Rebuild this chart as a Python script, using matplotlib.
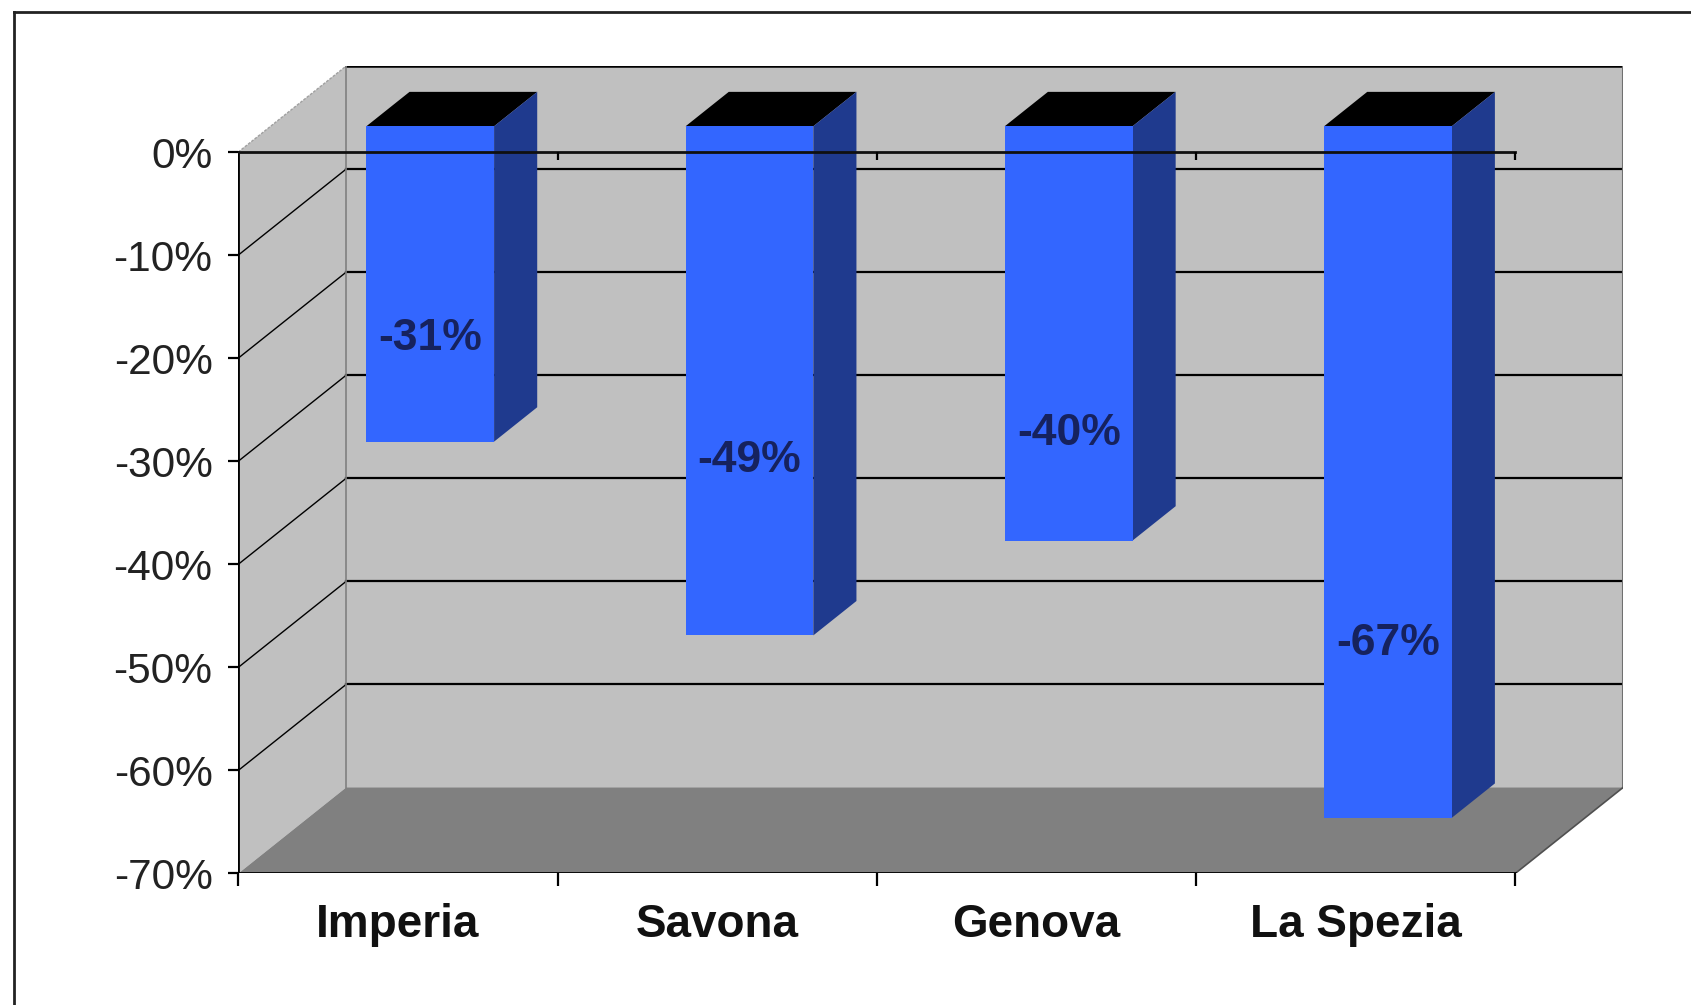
import matplotlib
matplotlib.use("Agg")
import matplotlib.pyplot as plt
from matplotlib.lines import Line2D
import numpy as np

# ---- data ----
categories = ["Imperia", "Savona", "Genova", "La Spezia"]
values = [-30.6, -49.4, -40.2, -67.1]
value_labels = ["-31%", "-49%", "-40%", "-67%"]
y_ticks = [0, -10, -20, -30, -40, -50, -60, -70]
y_tick_labels = ["0%", "-10%", "-20%", "-30%", "-40%", "-50%", "-60%", "-70%"]

# ---- style / layout ----
label_frac = [0.59, 0.605, 0.68, 0.71]   # vertical placement of value labels (fraction of value)
DEPTH_X = 0.3377     # depth shift in category units
DEPTH_Y = 8.34       # depth shift in percent units
BAR_W = 0.4
FRONT_D, BACK_D = 0.3, 0.7   # bar depth span (fraction of full depth)
YMIN = -70

C_FRONT = "#3366ff"
C_SIDE = "#1f3a8e"
C_TOP = "#000000"
C_WALL = "#c0c0c0"
C_FLOOR = "#808080"
FONT = "Liberation Sans"

plt.rcParams['font.family'] = [FONT, 'DejaVu Sans']

fig = plt.figure(figsize=(16.91, 10.05), dpi=100)
ax = fig.add_axes([0.14092, 0.13085, 0.81887, 0.80340])
n = len(categories)
ax.set_xlim(0, n + DEPTH_X)
ax.set_ylim(YMIN, DEPTH_Y)
ax.patch.set_visible(False)
for s in ax.spines.values():
    s.set_visible(False)

# back wall
ax.fill([DEPTH_X, n + DEPTH_X, n + DEPTH_X, DEPTH_X],
        [DEPTH_Y, DEPTH_Y, YMIN + DEPTH_Y, YMIN + DEPTH_Y],
        color=C_WALL, zorder=1, lw=0)
# side wall
ax.fill([0, DEPTH_X, DEPTH_X, 0], [0, DEPTH_Y, YMIN + DEPTH_Y, YMIN],
        color=C_WALL, zorder=1, lw=0)
# floor
ax.fill([0, n, n + DEPTH_X, DEPTH_X], [YMIN, YMIN, YMIN + DEPTH_Y, YMIN + DEPTH_Y],
        color=C_FLOOR, zorder=1, lw=0)

# gridlines on back wall and side wall
for t in y_ticks[1:-1]:
    ax.plot([DEPTH_X, n + DEPTH_X], [t + DEPTH_Y, t + DEPTH_Y], color="black", lw=1.6, zorder=2)
    ax.plot([0, DEPTH_X], [t, t + DEPTH_Y], color="black", lw=1.0, zorder=2)
# wall edges
ax.plot([DEPTH_X, n + DEPTH_X], [DEPTH_Y, DEPTH_Y], color="black", lw=1.8, zorder=2)
ax.plot([n + DEPTH_X, n + DEPTH_X], [DEPTH_Y, YMIN + DEPTH_Y], color="#707070", lw=1.5, zorder=2)
ax.plot([DEPTH_X, DEPTH_X], [DEPTH_Y, YMIN + DEPTH_Y], color="#808080", lw=1.2, zorder=2)
ax.plot([0, DEPTH_X], [0, DEPTH_Y], color="#a0a0a0", lw=1.0, ls=(0, (2, 1)), zorder=2)
ax.plot([n, n + DEPTH_X], [YMIN, YMIN + DEPTH_Y], color="#505050", lw=1.2, zorder=2)

# bars
fx, fy = FRONT_D * DEPTH_X, FRONT_D * DEPTH_Y
bx, by = BACK_D * DEPTH_X, BACK_D * DEPTH_Y
centers = np.arange(n) + 0.5
for c, v in zip(centers, values):
    xl, xr = c - BAR_W / 2, c + BAR_W / 2
    ax.fill([xl + fx, xr + fx, xr + bx, xl + bx], [fy, fy, by, by], color=C_TOP, zorder=3, lw=0)
    ax.fill([xr + fx, xr + bx, xr + bx, xr + fx], [fy, by, v + by, v + fy], color=C_SIDE, zorder=3, lw=0)
ax.bar(centers + fx, values, bottom=fy, width=BAR_W, color=C_FRONT, zorder=4, lw=0)

# value labels
for c, v, lab, f in zip(centers, values, value_labels, label_frac):
    ax.text(c + fx, v * f, lab, ha="center", va="center", fontsize=32,
            fontweight="bold", color="#16225e", zorder=6)

# front axes lines
ax.plot([0, 0], [0, YMIN], color="black", lw=2, zorder=5, solid_capstyle="projecting")
ax.plot([0, n], [YMIN, YMIN], color="black", lw=2, zorder=5)
ax.plot([0, n], [0, 0], color="#101010", lw=2, zorder=5)
ax.vlines(np.arange(1, n + 1), -0.8, 0, color="black", lw=1.6, zorder=5)

# ticks
ax.set_yticks(y_ticks)
ax.set_yticklabels(y_tick_labels)
ax.tick_params(axis="y", direction="out", length=7.5, width=1.6, pad=11,
               labelsize=30.5, labelcolor="#222222", left=True, right=False)
ax.set_xticks(np.arange(0, n + 1))
ax.set_xticklabels([""] * (n + 1))
ax.set_xticks(centers, minor=True)
ax.set_xticklabels(categories, minor=True)
ax.tick_params(axis="x", which="major", direction="out", length=9, width=1.6)
ax.tick_params(axis="x", which="minor", length=0, pad=21, labelsize=33, labelcolor="#111111")
for t in ax.get_xticklabels(minor=True):
    t.set_fontweight("bold")

# outer border (left and top)
fig.add_artist(Line2D([14 / 1691, 14 / 1691], [0, 1 - 12 / 1005], transform=fig.transFigure,
                      color="#222222", lw=2))
fig.add_artist(Line2D([14 / 1691, 1], [1 - 12 / 1005, 1 - 12 / 1005], transform=fig.transFigure,
                      color="#222222", lw=2))

fig.savefig("out.png", dpi=100)
